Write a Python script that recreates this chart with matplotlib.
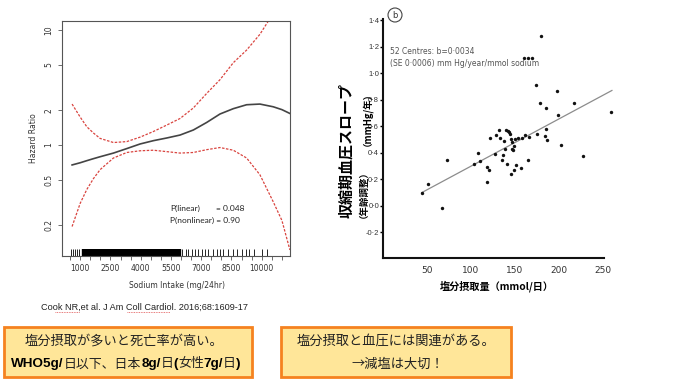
import matplotlib
matplotlib.use('Agg')
import matplotlib.pyplot as plt
from matplotlib.patches import Rectangle
from matplotlib.lines import Line2D
from matplotlib.offsetbox import TextArea, HPacker, AnnotationBbox
from matplotlib.ticker import MultipleLocator, NullLocator

W, H = 695, 386
JP = ['Noto Sans CJK JP', 'DejaVu Sans']

# ---- left panel: hazard ratio spline (Cook et al.)
sodium = [600, 1000, 1330, 1660, 1990, 2650, 3310, 3970, 4630, 5290,
          5950, 6610, 7270, 7930, 8590, 9250, 9910, 10570, 11000, 11395]
hr = [0.67, 0.70, 0.73, 0.76, 0.79, 0.85, 0.93, 1.02, 1.09, 1.15,
      1.22, 1.35, 1.57, 1.86, 2.07, 2.24, 2.27, 2.15, 2.03, 1.88]
hr_upper = [2.27, 1.75, 1.44, 1.27, 1.14, 1.05, 1.07, 1.17, 1.31, 1.49,
            1.70, 2.10, 2.81, 3.70, 5.20, 6.70, 9.20, 14.0, 16.0, 18.0]
hr_lower = [0.195, 0.31, 0.41, 0.51, 0.61, 0.77, 0.86, 0.89, 0.90, 0.875,
            0.85, 0.86, 0.91, 0.95, 0.90, 0.77, 0.55, 0.32, 0.22, 0.122]
hr_ticks = [0.2, 0.5, 1, 2, 5, 10]
sodium_ticks = [1000, 2500, 4000, 5500, 7000, 8500, 10000]
rug_sparse = [540, 640, 750, 835, 965, 1085, 6033, 6231, 6363, 6528, 6693,
              6858, 7023, 7188, 7353, 7600, 7765, 7930, 8095, 8310, 8590,
              8788, 9002, 9217, 9382, 9613, 9992, 10240]
rug_dense = [1160, 1230, 1310, 1400, 1480, 1560, 1650, 1720, 1800, 1890,
             1970, 2050, 2140, 2210, 2300, 2380, 2460, 2550, 2630, 2700,
             2790, 2870, 2950, 3040, 3120, 3200, 3290, 3370, 3450, 3540,
             3620, 3700, 3790, 3870, 3950, 4040, 4120, 4200, 4290, 4370,
             4450, 4540, 4620, 4700, 4790, 4870, 4950, 5040, 5120, 5200,
             5290, 5370, 5450, 5540, 5620, 5700, 5790, 5870, 5950]

# ---- right panel: salt intake vs SBP slope (Intersalt)
salt = [44.7, 51.1, 67.4, 72.3, 103.4, 108.0, 109.8, 118.6, 118.6, 120.5,
        122.0, 127.7, 128.8, 131.8, 133.3, 135.2, 136.4, 137.5, 138.3, 139.4,
        141.3, 142.0, 143.2, 143.9, 145.0, 145.8, 146.9, 146.9, 147.7, 148.5,
        149.2, 150.4, 150.8, 153.8, 156.4, 157.6, 161.0, 164.4, 165.5, 159.8,
        164.8, 169.7, 174.2, 175.0, 178.8, 179.2, 183.7, 185.6, 185.6, 186.4,
        197.7, 199.2, 201.9, 217.0, 227.3, 259.5]
slope = [0.093, 0.168, -0.02, 0.349, 0.319, 0.40, 0.339, 0.294, 0.181, 0.269,
         0.515, 0.389, 0.538, 0.575, 0.515, 0.349, 0.384, 0.49, 0.425, 0.57,
         0.319, 0.565, 0.558, 0.545, 0.239, 0.508, 0.482, 0.432, 0.42, 0.45,
         0.269, 0.508, 0.307, 0.515, 0.286, 0.513, 0.538, 0.344, 0.52, 1.118,
         1.118, 1.118, 0.91, 0.545, 0.779, 1.279, 0.525, 0.739, 0.583, 0.495,
         0.867, 0.688, 0.457, 0.779, 0.374, 0.708]
fit_x = [44, 260]
fit_intercept, fit_b = -0.0576, 0.00357
slope_ticks = [-0.2, 0.0, 0.2, 0.4, 0.6, 0.8, 1.0, 1.2, 1.4]
salt_ticks = [50, 100, 150, 200, 250]


def fx(x):
    return x / W


def fy(y):
    return 1 - y / H


fig = plt.figure(figsize=(W / 100, H / 100), dpi=100)

# left chart
axL = fig.add_axes([fx(62), fy(256), (290 - 62) / W, (256 - 21) / H])
axL.set_yscale('log')
axL.plot(sodium, hr, color='#444444', lw=1.2)
axL.plot(sodium, hr_upper, color='#d9443f', lw=0.9, dashes=(2, 1.2))
axL.plot(sodium, hr_lower, color='#d9443f', lw=0.9, dashes=(2, 1.2))
axL.vlines(rug_dense, 0, 0.028, transform=axL.get_xaxis_transform(),
           color='black', lw=1.7)
axL.vlines(rug_sparse, 0, 0.028, transform=axL.get_xaxis_transform(),
           color='black', lw=0.6)
axL.set_xlim(100, 11400)
axL.set_ylim(0.108, 12)
axL.set_yticks(hr_ticks)
axL.set_yticklabels([f'{t:g}' for t in hr_ticks], rotation=90, va='center')
axL.yaxis.set_minor_locator(NullLocator())
axL.set_xticks(sodium_ticks)
axL.set_xticklabels([str(t) for t in sodium_ticks])
axL.xaxis.set_minor_locator(MultipleLocator(500))
axL.tick_params(which='both', direction='out', length=3, width=0.6,
                color='#555555', labelsize=5.5, labelcolor='#333333', pad=3)
for s in axL.spines.values():
    s.set_color('#555555')
    s.set_linewidth(0.8)
axL.text(0.474, 0.204, 'P(linear)', transform=axL.transAxes, fontsize=6,
         family='Lato', color='#222222', va='center')
axL.text(0.675, 0.204, '= 0.048', transform=axL.transAxes, fontsize=6,
         family='Lato', color='#222222', va='center')
axL.text(0.474, 0.153, 'P(nonlinear) = 0.90', transform=axL.transAxes,
         fontsize=6, family='Lato', color='#222222', va='center')
fig.text(fx(33), fy(138), 'Hazard Ratio', rotation=90, fontsize=5.5,
         color='#333333', ha='center', va='center')
fig.text(fx(177), fy(286), 'Sodium Intake (mg/24hr)', fontsize=5.5,
         color='#333333', ha='center', va='center')

# right chart
axR = fig.add_axes([fx(383), fy(258), (604 - 383) / W, (258 - 19) / H])
axR.scatter(salt, slope, s=6, color='#111111', linewidths=0, clip_on=False,
            zorder=3)
fit_y = [fit_intercept + fit_b * x for x in fit_x]
axR.plot(fit_x, fit_y, color='#8c8c8c', lw=0.9, clip_on=False)
axR.set_xlim(0, 251)
axR.set_ylim(-0.394, 1.41)
axR.set_yticks(slope_ticks)
axR.set_yticklabels([f'{t:.1f}'.replace('.', '·') for t in slope_ticks],
                    family='Liberation Sans')
axR.set_xticks(salt_ticks)
axR.spines['top'].set_visible(False)
axR.spines['right'].set_visible(False)
for s in ('left', 'bottom'):
    axR.spines[s].set_linewidth(1.5)
    axR.spines[s].set_color('#111111')
axR.tick_params(axis='y', direction='out', length=2, width=1,
                labelsize=5.5, pad=0.8, labelcolor='#333333')
axR.tick_params(axis='x', length=0, labelsize=6.5, pad=6,
                labelcolor='#333333')

fig.text(fx(395), fy(15), 'b', fontsize=6, ha='center', va='center',
         color='#333333',
         bbox=dict(boxstyle='circle,pad=0.3', fc='white', ec='#444444',
                   lw=0.8))
fig.text(fx(390), fy(52), '52 Centres: b=0·0034', fontsize=5.5,
         color='#555555', va='center')
fig.text(fx(390), fy(63), '(SE 0·0006) mm Hg/year/mmol sodium', fontsize=5.5,
         color='#555555', va='center')

fig.text(fx(346), fy(150), '収縮期血圧スロープ', rotation=90, fontsize=10.8,
         fontweight='bold', family=JP, ha='center', va='center')
fig.text(fx(359), fy(190), '（年齢調整）', rotation=90, fontsize=6.8,
         fontweight='bold', family=JP, ha='center', va='center')
fig.text(fx(362), fy(114), '（mmHg/年）', rotation=90, fontsize=6.8,
         fontweight='bold', family=JP, ha='center', va='center')
fig.text(fx(497), fy(286), '塩分摂取量（mmol/日）', fontsize=7.3,
         fontweight='bold', family=JP, ha='center', va='center')

# citation, with the red spell-check marks of the slide
fig.text(fx(41), fy(307), 'Cook NR,et al. J Am Coll Cardiol. 2016;68:1609-17',
         fontsize=6.6, family='Liberation Sans', color='#222222', va='center')
for x0, x1 in ((55, 80), (127, 170)):
    fig.add_artist(Line2D([fx(x0), fx(x1)], [fy(311.5), fy(311.5)],
                          transform=fig.transFigure, color='#e05050',
                          lw=0.6, ls=(0, (1, 1))))

# summary boxes
for x0, x1 in ((4, 252), (281, 511)):
    fig.add_artist(Rectangle((fx(x0), fy(377)), (x1 - x0) / W, 50 / H,
                             transform=fig.transFigure, fc='#FFE699',
                             ec='#F5821F', lw=2))

fig.text(fx(124), fy(341.5), '塩分摂取が多いと死亡率が高い。', fontsize=9.5,
         family=JP, color='#222222', ha='center', va='center')

latin = dict(family='Liberation Sans', weight='bold', size=9.7, color='black')
kanji = dict(family=JP, size=9.3, color='#222222')
chunks = [('WHO5g/', latin), ('日以下、日本', kanji), ('8g/', latin),
          ('日', kanji), ('(', latin), ('女性', kanji), ('7g/', latin),
          ('日', kanji), (')', latin)]
line2 = HPacker(children=[TextArea(t, textprops=p) for t, p in chunks],
                align='baseline', pad=0, sep=0)
fig.add_artist(AnnotationBbox(line2, (fx(126), fy(364)),
                              xycoords='figure fraction', frameon=False,
                              box_alignment=(0.5, 0.5), pad=0))

fig.text(fx(396), fy(341.5), '塩分摂取と血圧には関連がある。', fontsize=9.5,
         family=JP, color='#222222', ha='center', va='center')
fig.text(fx(398), fy(364), '→減塩は大切！', fontsize=9.5,
         family=JP, color='#222222', ha='center', va='center')

fig.savefig('out.png', dpi=100)
